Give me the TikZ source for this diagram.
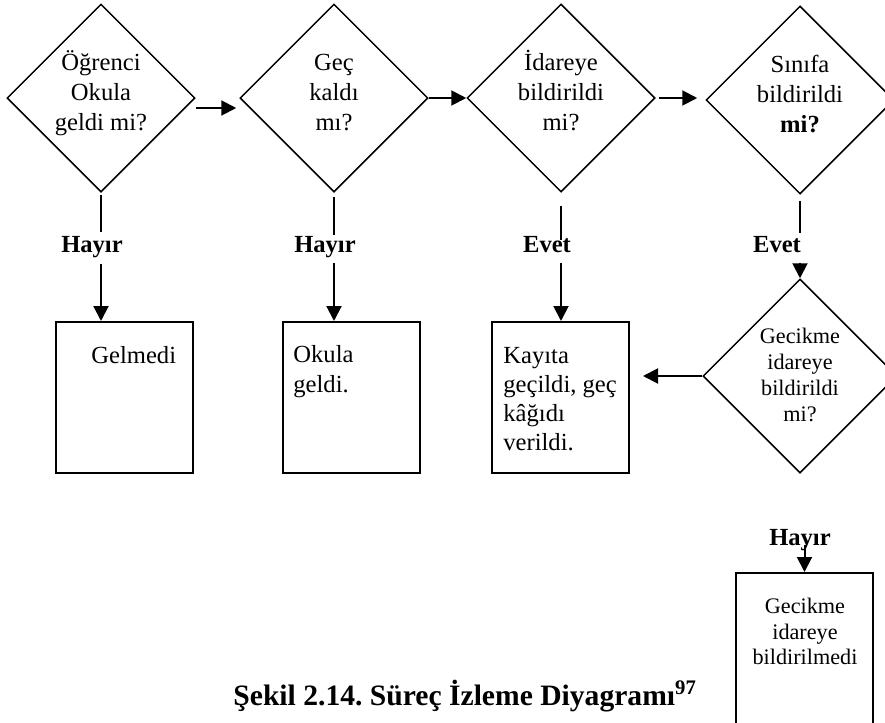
\documentclass[tikz,border=0pt]{standalone}
\usepackage{fontspec}
\setmainfont{Liberation Serif}
\usetikzlibrary{shapes.geometric,arrows.meta}
\frenchspacing
\begin{document}
\begin{tikzpicture}[x=0.5pt,y=-0.5pt,
  every node/.style={inner sep=0pt},
  decision/.style={draw,line width=0.75pt,diamond,aspect=1,
    minimum width=94pt,minimum height=94pt,align=center,
    text height=34pt,text depth=2pt,
    font=\fontsize{12.3}{14.9}\selectfont},
  smalldecision/.style={decision,minimum width=97pt,minimum height=97pt,
    text height=47pt,text depth=2pt,
    font=\fontsize{11.1}{13}\selectfont},
  box/.style={draw,line width=1pt,rectangle,minimum width=68.5pt,minimum height=75.5pt},
  boxtext/.style={align=left,anchor=north west,font=\fontsize{12.3}{14.75}\selectfont},
  answer/.style={anchor=base,font=\bfseries\fontsize{12.3}{14}\selectfont},
  link/.style={line width=1pt},
  arr/.style={line width=1pt,-{Triangle[length=7.5pt,width=7.5pt]}}
]
\useasboundingbox (0,0) rectangle (885,723);
\clip (0,0) rectangle (885,723);

% decisions along the top row
\node[decision] (d1) at (101,98) {Öğrenci\\Okula\\geldi mi?};
\node[decision] (d2) at (334,98) {Geç\\kaldı\\mı?};
\node[decision] (d3) at (561,98) {İdareye\\bildirildi\\mi?};
\node[decision] (d4) at (800,100) {Sınıfa\\bildirildi\\\textbf{mi?}};
\node[smalldecision] (d5) at (800,376) {Gecikme\\idareye\\bildirildi\\mi?};

% outcome boxes
\node[box] (b1) at (124.5,397.5) {};
\node[box] (b2) at (351.5,397.5) {};
\node[box] (b3) at (560.5,397.5) {};
\node[box,minimum height=85pt] (b6) at (804.5,658) {};

\node[boxtext] (t1) at (91,346) {Gelmedi};
\node[boxtext,font=\fontsize{12.3}{15.25}\selectfont] (t2) at (293,345) {Okula\\geldi.};
\node[boxtext,font=\fontsize{12.3}{14.5}\selectfont] (t3) at (503,347) {Kayıta\\geçildi, geç\\kâğıdı\\verildi.};
\node[align=center,anchor=north,font=\fontsize{11.1}{12.75}\selectfont] (t6) at (805,598) {Gecikme\\idareye\\bildirilmedi};

% answers
\node[answer] (l1) at (92,252) {Hayır};
\node[answer] (l2) at (325,252) {Hayır};
\node[answer] (l3) at (547,252) {Evet};
\node[answer] (l4) at (777,252) {Evet};
\node[answer] (l6) at (800,545) {Hayır};

% caption
\node[anchor=base west,font=\bfseries\fontsize{14.8}{18}\selectfont] (cap) at (233,705)
  {Şekil 2.14. Süreç İzleme Diyagramı\textsuperscript{97}};

% horizontal flow
\draw[arr,shorten >=1.5pt] ([yshift=-5pt]d1.east) -- ([yshift=-5pt]d1.east -| d2.west);
\draw[arr] (d2.east) -- (d2.east -| d3.west);
\draw[arr,shorten <=1.5pt,shorten >=4pt] (d3.east) -- (d3.east -| d4.west);

% branches downwards
\draw[link,shorten <=1pt] (d1.south) -- ([yshift=10pt]d1.south |- l1.base);
\draw[arr] ([yshift=-6pt]d1.south |- l1.base) -- (d1.south |- b1.north);
\draw[link,shorten <=2pt] (d2.south) -- ([yshift=8.5pt]d2.south |- l2.base);
\draw[arr] ([yshift=-5.5pt]d2.south |- l2.base) -- (d2.south |- b2.north);
\draw[link,shorten <=6.5pt] (d3.south) -- ([yshift=6pt]d3.south |- l3.base);
\draw[arr] ([yshift=-5.5pt]d3.south |- l3.base) -- (d3.south |- b3.north);
\draw[link,shorten <=3pt] (d4.south) -- ([yshift=9.5pt]d4.south |- l4.base);
\draw[arr] ([yshift=-5.5pt]d4.south |- l4.base) -- (d5.north);
\draw[arr,shorten >=6.5pt] (d5.west) -- (d5.west -| b3.east);
\draw[arr] (b6.north |- l6.base) -- (b6.north);
\end{tikzpicture}
\end{document}
